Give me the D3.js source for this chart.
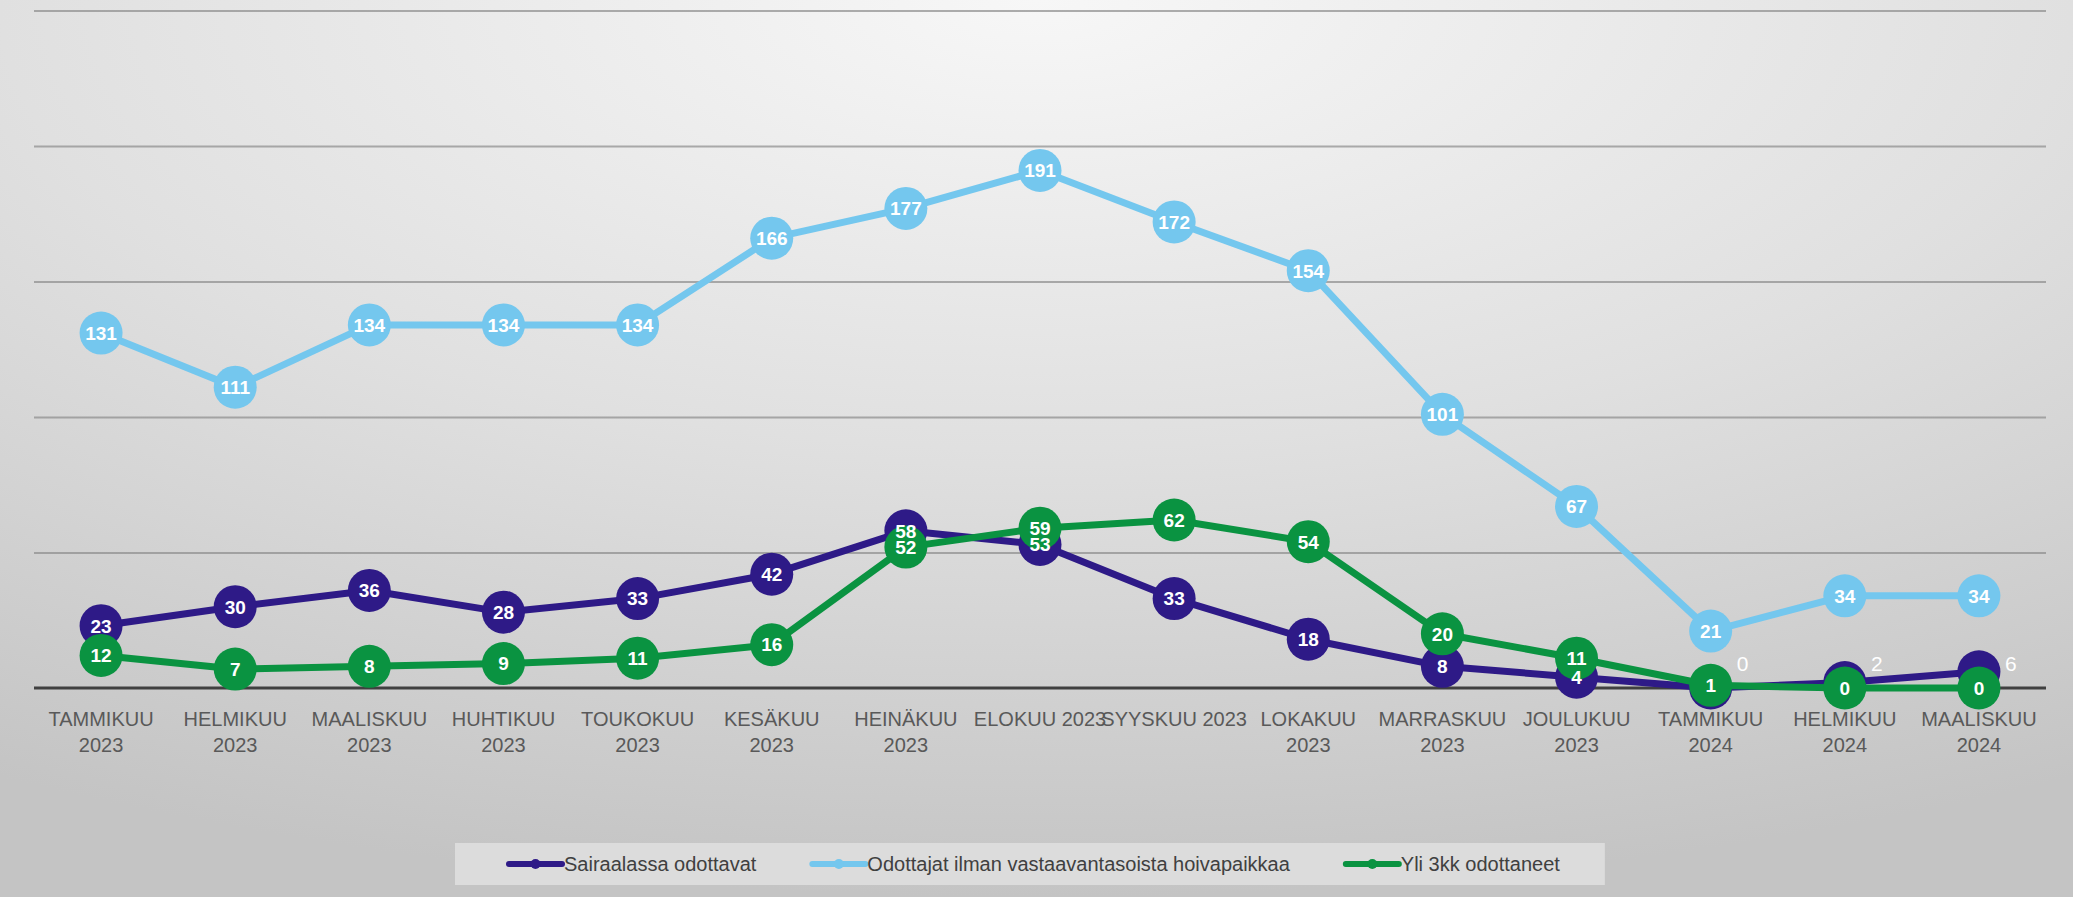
<!DOCTYPE html>
<meta charset="utf-8">
<html>
<head>
<script src="https://cdn.jsdelivr.net/npm/d3@7"></script>
<style>

body {
  margin:0;
  background-color:#d0d0d0;
}

.x-axis text {
  font-family:"Liberation Sans", Arial, sans-serif;
  font-size:20px;
  fill:#595959;
}

.x-axis path, .x-axis line, .y-axis path, .y-axis text {
  display:none;
}

.y-axis line {
  stroke:#8c8c8c;
  stroke-opacity:0.7;
  stroke-width:2;
}

.point-label {
  font-family:"Liberation Sans", Arial, sans-serif;
  font-weight:bold;
  font-size:19px;
  fill:white;
}

.legend text {
  font-family:"Liberation Sans", Arial, sans-serif;
  font-size:20px;
  fill:#404040;
}

</style>
</head>

<body>
<script>

//Data
var months = ["TAMMIKUU 2023", "HELMIKUU 2023", "MAALISKUU 2023", "HUHTIKUU 2023", "TOUKOKUU 2023",
  "KESÄKUU 2023", "HEINÄKUU 2023", "ELOKUU 2023", "SYYSKUU 2023", "LOKAKUU 2023",
  "MARRASKUU 2023", "JOULUKUU 2023", "TAMMIKUU 2024", "HELMIKUU 2024", "MAALISKUU 2024"];

var tickLabels = [["TAMMIKUU", "2023"], ["HELMIKUU", "2023"], ["MAALISKUU", "2023"], ["HUHTIKUU", "2023"],
  ["TOUKOKUU", "2023"], ["KESÄKUU", "2023"], ["HEINÄKUU", "2023"], ["ELOKUU 2023"], ["SYYSKUU 2023"],
  ["LOKAKUU", "2023"], ["MARRASKUU", "2023"], ["JOULUKUU", "2023"], ["TAMMIKUU", "2024"],
  ["HELMIKUU", "2024"], ["MAALISKUU", "2024"]];

var sairaalassa = [23, 30, 36, 28, 33, 42, 58, 53, 33, 18, 8, 4, 0, 2, 6];
var ilmanPaikkaa = [131, 111, 134, 134, 134, 166, 177, 191, 172, 154, 101, 67, 21, 34, 34];
var yli3kk = [12, 7, 8, 9, 11, 16, 52, 59, 62, 54, 20, 11, 1, 0, 0];

var seriesNames = ["Sairaalassa odottavat", "Odottajat ilman vastaavantasoista hoivapaikkaa", "Yli 3kk odottaneet"];
var seriesColors = ["#2e1a87", "#74c7ee", "#0a9341"];
var yTicks = [0, 50, 100, 150, 200, 250];

var series = [sairaalassa, ilmanPaikkaa, yli3kk].map((v, i) => ({
  name: seriesNames[i], color: seriesColors[i], values: v
}));

//Sizes
var W = 2073, H = 897;
var m = {left:34, right:2046, top:10.6, bottom:688};

var svg = d3.select("body")
    .append("svg")
    .attr("width", W)
    .attr("height", H)
    .style("display", "block");

//Background gradient
var defs = svg.append("defs");
var grad = defs.append("radialGradient")
    .attr("id", "bg")
    .attr("cx", 0.5).attr("cy", 0.0)
    .attr("r", 1.0);
grad.append("stop").attr("offset", 0).attr("stop-color", "#f7f7f7");
grad.append("stop").attr("offset", 0.5).attr("stop-color", "#e0e0e0");
grad.append("stop").attr("offset", 1).attr("stop-color", "#c4c4c4");

svg.append("rect")
    .attr("x", 0).attr("y", 0)
    .attr("width", W).attr("height", H)
    .attr("fill", "url(#bg)");

//Scales
var x = d3.scaleBand()
    .domain(months)
    .range([m.left, m.right]);

var y = d3.scaleLinear()
    .domain([0, 250])
    .range([m.bottom, m.top]);

var cx = i => x(months[i]) + x.bandwidth() / 2;

//Gridlines
svg.append("g")
    .attr("class", "y-axis")
    .attr("transform", `translate(${m.left}, 0)`)
    .call(d3.axisLeft(y)
      .tickValues(yTicks.slice(1))
      .tickSize(-(m.right - m.left)));

//Baseline
svg.append("line")
    .attr("x1", m.left).attr("x2", m.right)
    .attr("y1", y(0)).attr("y2", y(0))
    .attr("stroke", "#404040")
    .attr("stroke-width", 3);

//X axis
var xAxis = svg.append("g")
    .attr("class", "x-axis")
    .attr("transform", `translate(0, ${m.bottom})`)
    .call(d3.axisBottom(x).tickSize(0));

xAxis.selectAll(".tick text")
    .attr("y", 0)
    .attr("dy", null)
    .text(null)
    .selectAll("tspan")
    .data((d, i) => tickLabels[i])
    .enter()
    .append("tspan")
    .attr("x", 0)
    .attr("y", (d, j) => 38 + j * 26)
    .text(d => d);

//Lines and markers
var line = d3.line()
    .x((d, i) => cx(i))
    .y(d => y(d));

series.forEach(s => {
  var g = svg.append("g");
  g.append("path")
      .datum(s.values)
      .attr("d", line)
      .attr("fill", "none")
      .attr("stroke", s.color)
      .attr("stroke-width", 7)
      .attr("stroke-linejoin", "round");
  g.selectAll("circle")
      .data(s.values)
      .enter()
      .append("circle")
      .attr("cx", (d, i) => cx(i))
      .attr("cy", d => y(d))
      .attr("r", 21.5)
      .attr("fill", s.color);
});

//Data labels, drawn on top of all markers
series.forEach((s, k) => {
  svg.append("g")
    .selectAll("text")
    .data(s.values)
    .enter()
    .append("text")
    .attr("class", "point-label")
    .attr("text-anchor", "middle")
    .attr("dy", "0.36em")
    .each(function(d, i) {
      var t = d3.select(this);
      // last three hospital values are shown beside the marker
      if (k == 0 && i >= 12) {
        t.attr("x", cx(i) + 32)
         .attr("y", y(0) - 25)
         .style("font-weight", "normal")
         .style("font-size", "21px");
      } else {
        t.attr("x", cx(i)).attr("y", y(d));
      }
    })
    .text(d => d);
});

//Legend
var legend = svg.append("g").attr("class", "legend");
var lx = 509, ly = 864;
var box = legend.append("rect")
    .attr("fill", "#dcdcdc")
    .attr("y", 843)
    .attr("height", 42);

series.forEach(s => {
  var item = legend.append("g").attr("transform", `translate(${lx}, ${ly})`);
  item.append("line")
      .attr("x1", 0).attr("x2", 53)
      .attr("stroke", s.color)
      .attr("stroke-width", 6)
      .attr("stroke-linecap", "round");
  item.append("circle")
      .attr("cx", 26.5)
      .attr("r", 5)
      .attr("fill", s.color);
  var txt = item.append("text")
      .attr("x", 55)
      .attr("dy", "0.35em")
      .text(s.name);
  lx += 55 + txt.node().getComputedTextLength() + 56;
});

box.attr("x", 455).attr("width", lx - 56 + 45 - 455);

</script>
</body>
</html>
